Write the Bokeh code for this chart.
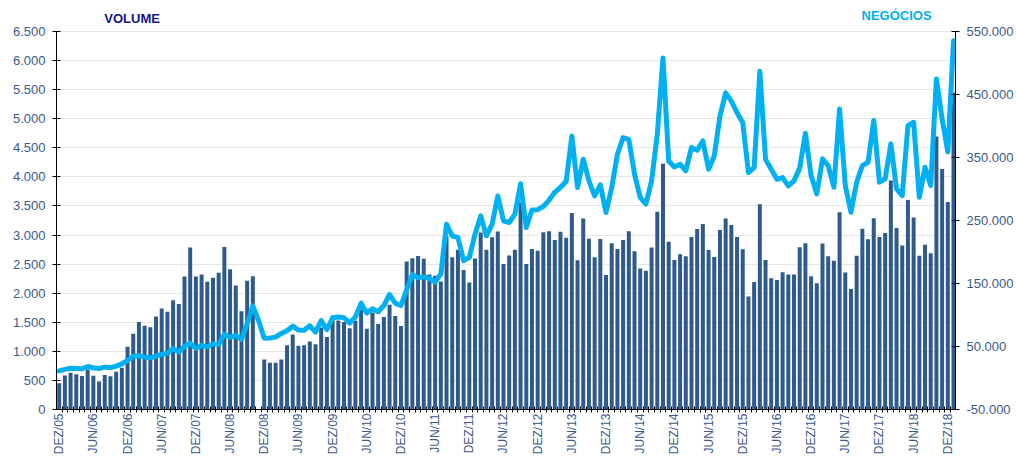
from math import pi
from bokeh.plotting import figure
from bokeh.models import Range1d, LinearAxis, FixedTicker
from bokeh.embed import file_html
from bokeh.resources import INLINE
from bokeh.core.properties import value

# Monthly volume (bars, left axis), DEZ/05 .. JAN/19
volume = [
    450, 585, 630, 605, 578, 686, 580, 480, 594, 570, 648, 720,
    1080, 1303, 1505, 1440, 1414, 1600, 1737, 1680, 1880, 1812, 2285, 2785,
    2285, 2322, 2195, 2264, 2350, 2796, 2410, 2132, 1691, 2215, 2292, 0,
    860, 805, 805, 860, 1106, 1290, 1097, 1105, 1171, 1120, 1408, 1248,
    1612, 1530, 1505, 1398, 1526, 1720, 1389, 1669, 1469, 1589, 1800, 1606,
    1434, 2543, 2600, 2640, 2594, 2320, 2300, 2200, 2980, 2617, 2749, 2400,
    2182, 2598, 3043, 2746, 2960, 3060, 2502, 2646, 2746, 3560, 2502, 2762,
    2728, 3050, 3065, 2915, 3057, 2954, 3378, 2566, 3286, 2937, 2617, 2930,
    2314, 2860, 2760, 2914, 3063, 2722, 2425, 2388, 2786, 3400, 4225, 2883,
    2571, 2669, 2634, 2966, 3103, 3188, 2743, 2623, 3086, 3286, 3171, 2966,
    2754, 1943, 2194, 3531, 2571, 2257, 2228, 2360, 2320, 2320, 2790, 2859,
    2292, 2172, 2854, 2636, 2556, 3392, 2355, 2074, 2642, 3106, 2928, 3289,
    2968, 3037, 3937, 3123, 2819, 3604, 3300, 2642, 2831, 2687, 4693, 4137,
    3570, 5450,
]

# Monthly number of trades (line, right axis)
negocios = [
    11200, 13700, 15500, 15100, 14600, 18300, 16300, 15100, 17200, 16500, 18900, 22500,
    28100, 34400, 35200, 33400, 32000, 34600, 37300, 39200, 46600, 41400, 50500, 55200,
    46900, 51500, 49700, 54100, 53000, 69600, 64400, 67800, 61000, 86200, 114600, 91300,
    63100, 63600, 64900, 70700, 75000, 82400, 76000, 75700, 82900, 72900, 91300, 76600,
    95600, 96700, 95600, 87200, 96700, 118800, 103000, 109800, 105100, 115100, 132500, 118800,
    115100, 139900, 164200, 158900, 161000, 158200, 152100, 165200, 244100, 225700, 223000, 186200,
    191500, 228300, 257300, 225700, 244100, 288900, 249500, 246800, 260000, 308200, 238800, 266600,
    267200, 272200, 282300, 294800, 302600, 311900, 384100, 302400, 347200, 312900, 289100, 306600,
    262700, 302400, 355100, 381500, 378900, 323500, 286600, 276000, 312900, 386700, 508000, 344500,
    335000, 339300, 328700, 365700, 361400, 376200, 331300, 352500, 415800, 452600, 439500, 421100,
    405200, 326100, 334000, 487000, 347200, 331300, 315500, 318100, 305000, 312900, 333100, 388500,
    321300, 292200, 347800, 337200, 302800, 427100, 305500, 263100, 310800, 337200, 342500, 408600,
    310800, 316000, 371600, 300100, 289600, 400700, 405900, 286900, 334600, 305500, 474700, 411300,
    358900, 535500,
]

x_tick_labels = ["DEZ/05", "JUN/06", "DEZ/06", "JUN/07", "DEZ/07", "JUN/08", "DEZ/08",
                 "JUN/09", "DEZ/09", "JUN/10", "DEZ/10", "JUN/11", "DEZ/11", "JUN/12",
                 "DEZ/12", "JUN/13", "DEZ/13", "JUN/14", "DEZ/14", "JUN/15", "DEZ/15",
                 "JUN/16", "DEZ/16", "JUN/17", "DEZ/17", "JUN/18", "DEZ/18"]
left_ticks = [0, 500, 1000, 1500, 2000, 2500, 3000, 3500, 4000, 4500, 5000, 5500, 6000, 6500]
left_tick_labels = ["0", "500", "1.000", "1.500", "2.000", "2.500", "3.000", "3.500",
                    "4.000", "4.500", "5.000", "5.500", "6.000", "6.500"]
right_ticks = [-50000, 50000, 150000, 250000, 350000, 450000, 550000]
right_tick_labels = ["-50.000", "50.000", "150.000", "250.000", "350.000", "450.000", "550.000"]
series_titles = ["VOLUME", "NEGÓCIOS"]

months = list(range(len(volume)))
x_ticks = [6 * k for k in range(len(x_tick_labels))]
month_edges = [m - 0.5 for m in range(len(volume) + 1)]

FONT = "Liberation Sans"
TICK_COLOR = "#3a5a8c"

# the frame reaches the top of the canvas so that the series titles sit inside it;
# axis lines are bounded to the real value ranges
p = figure(width=1016, height=457, output_backend="svg", toolbar_location=None,
           x_range=Range1d(-0.47, 157.35), y_range=Range1d(0, 7033),
           min_border_left=56, min_border_right=61, min_border_top=0, min_border_bottom=48)
p.outline_line_color = None
p.background_fill_color = "white"
p.border_fill_color = "white"
p.extra_y_ranges = {"neg": Range1d(-50000, 599200)}

# grid
p.xgrid.visible = False
p.ygrid.ticker = FixedTicker(ticks=left_ticks)
p.ygrid.grid_line_color = "#e6e6e6"
p.ygrid.grid_line_width = 1

# x axis
xa = p.xaxis[0]
xa.ticker = FixedTicker(ticks=x_ticks, minor_ticks=month_edges)
xa.major_label_overrides = {t: lab for t, lab in zip(x_ticks, x_tick_labels)}
xa.major_label_orientation = pi / 2
xa.major_tick_line_color = None
xa.major_tick_out = 0
xa.major_tick_in = 0
xa.minor_tick_line_color = "black"
xa.minor_tick_in = 3
xa.minor_tick_out = 3
xa.axis_line_color = "black"
xa.major_label_text_font = FONT
xa.major_label_text_font_size = "12px"
xa.major_label_text_color = TICK_COLOR
xa.major_label_standoff = 1

# left axis
ya = p.yaxis[0]
ya.ticker = FixedTicker(ticks=left_ticks)
ya.bounds = (0, 6500)
ya.major_label_overrides = {t: lab for t, lab in zip(left_ticks, left_tick_labels)}
ya.major_tick_in = 4
ya.major_tick_out = 4
ya.minor_tick_line_color = None
ya.axis_line_color = "black"
ya.major_tick_line_color = "black"
ya.major_label_text_font = FONT
ya.major_label_text_font_size = "13px"
ya.major_label_text_color = TICK_COLOR
ya.major_label_standoff = 7

# right axis
ra = LinearAxis(y_range_name="neg", ticker=FixedTicker(ticks=right_ticks), bounds=(-50000, 550000))
ra.major_label_overrides = {t: lab for t, lab in zip(right_ticks, right_tick_labels)}
ra.major_tick_in = 4
ra.major_tick_out = 4
ra.minor_tick_line_color = None
ra.axis_line_color = "black"
ra.major_tick_line_color = "black"
ra.major_label_text_font = FONT
ra.major_label_text_font_size = "13px"
ra.major_label_text_color = TICK_COLOR
ra.major_label_standoff = 7
p.add_layout(ra, "right")

# bars and line
p.vbar(x=months, top=volume, width=0.7, fill_color="#2e5a8c", line_color=None)
p.line(x=months, y=negocios, y_range_name="neg", line_color="#00b0f0", line_width=5,
       line_join="round", line_cap="round")

# series titles
p.text(x=[12.8], y=[6724], text=[series_titles[0]], text_font=value(FONT),
       text_font_style="bold", text_font_size="13px", text_color="#14148c",
       text_align="center", text_baseline="middle")
p.text(x=[147.0], y=[6775], text=[series_titles[1]], text_font=value(FONT),
       text_font_style="bold", text_font_size="13px", text_color="#00b0f0",
       text_align="center", text_baseline="middle")

open("out.html", "w").write(file_html(p, INLINE))
